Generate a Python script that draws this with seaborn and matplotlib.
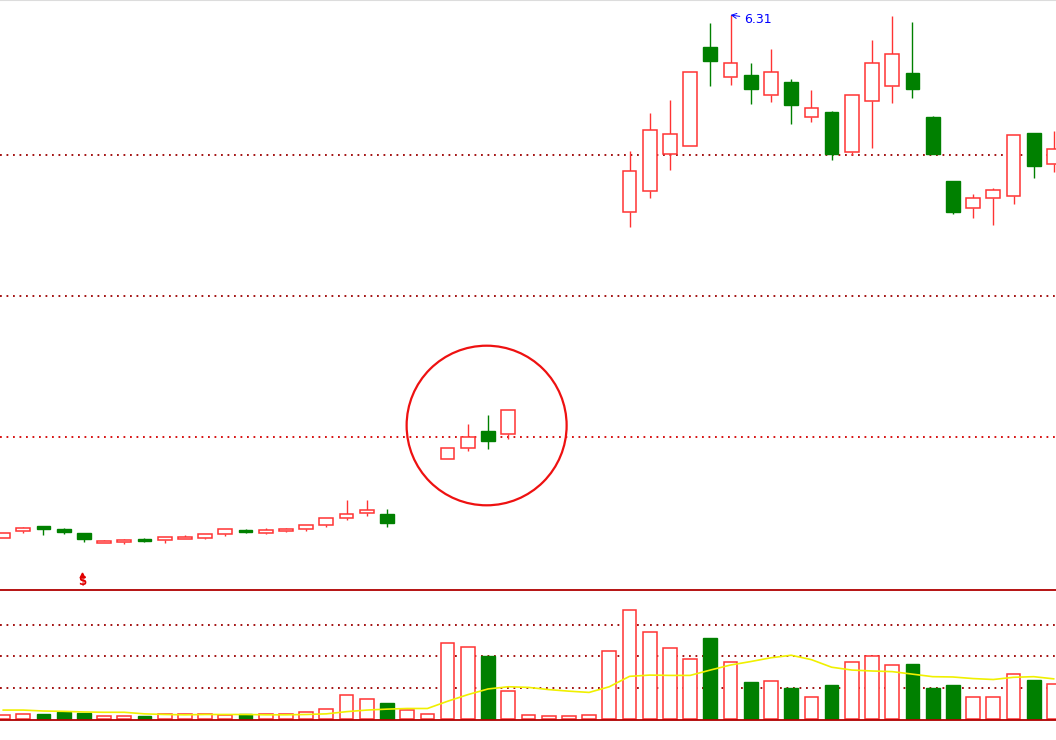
import numpy as np
import pandas as pd
import matplotlib
matplotlib.use("Agg")
import matplotlib.pyplot as plt
from matplotlib.patches import Ellipse
import seaborn as sns

# ======================
# DATA
# ======================
nan = np.nan

open_ = [1.08, 1.15, 1.20, 1.17, 1.13, 1.03, 1.04, 1.07, 1.06, 1.07,
         1.08, 1.12, 1.16, 1.13, 1.15, 1.17, 1.21, 1.28, 1.33, 1.32,
         nan, nan, 1.87, 1.98, 2.15, 2.12, nan, nan, nan, nan,
         nan, 4.34, 4.55, 4.92, 5.00, 5.99, 5.69, 5.71, 5.51, 5.64,
         5.29, 5.34, 4.94, 5.45, 5.60, 5.73, 5.29, 4.65, 4.38, 4.48,
         4.50, 5.13, 4.82]
high = [1.13, 1.19, 1.20, 1.18, 1.13, 1.06, 1.07, 1.08, 1.09, 1.11,
        1.12, 1.17, 1.17, 1.18, 1.18, 1.21, 1.28, 1.46, 1.46, 1.37,
        nan, nan, 1.98, 2.22, 2.31, 2.36, nan, nan, nan, nan,
        nan, 4.95, 5.33, 5.46, 5.74, 6.23, 6.31, 5.83, 5.97, 5.67,
        5.56, 5.35, 5.51, 6.06, 6.30, 6.24, 5.30, 4.65, 4.52, 4.58,
        5.11, 5.13, 5.15]
low = [1.08, 1.13, 1.11, 1.12, 1.04, 1.03, 1.02, 1.04, 1.03, 1.07,
       1.07, 1.10, 1.13, 1.12, 1.14, 1.15, 1.19, 1.26, 1.30, 1.19,
       nan, nan, 1.87, 1.95, 1.97, 2.07, nan, nan, nan, nan,
       nan, 4.19, 4.48, 4.76, 5.00, 5.60, 5.61, 5.42, 5.44, 5.22,
       5.24, 4.86, 4.91, 4.98, 5.43, 5.48, 4.92, 4.32, 4.28, 4.21,
       4.42, 4.68, 4.74]
close = [1.13, 1.18, 1.17, 1.14, 1.07, 1.05, 1.06, 1.05, 1.09, 1.09,
         1.12, 1.17, 1.14, 1.16, 1.17, 1.21, 1.28, 1.32, 1.36, 1.23,
         nan, nan, 1.98, 2.09, 2.05, 2.36, nan, nan, nan, nan,
         nan, 4.75, 5.16, 5.12, 5.74, 5.85, 5.83, 5.57, 5.74, 5.41,
         5.38, 4.92, 5.51, 5.83, 5.92, 5.57, 4.92, 4.34, 4.48, 4.56,
         5.11, 4.80, 4.97]

volume = [0.12, 0.15, 0.16, 0.24, 0.19, 0.09, 0.09, 0.10, 0.15, 0.15,
          0.15, 0.14, 0.15, 0.16, 0.18, 0.22, 0.31, 0.76, 0.63, 0.52,
          0.28, 0.18, 2.41, 2.28, 2.00, 0.89, 0.12, 0.09, 0.09, 0.12,
          2.15, 3.47, 2.76, 2.25, 1.92, 2.58, 1.80, 1.19, 1.22, 1.00,
          0.70, 1.10, 1.80, 1.99, 1.73, 1.74, 1.00, 1.10, 0.70, 0.70,
          1.44, 1.26, 1.12]
vol_ma = [0.29, 0.29, 0.26, 0.25, 0.23, 0.22, 0.22, 0.17, 0.15, 0.14,
          0.15, 0.15, 0.15, 0.14, 0.14, 0.15, 0.17, 0.24, 0.29, 0.32,
          0.34, 0.34, 0.57, 0.78, 0.96, 1.03, 1.01, 0.94, 0.89, 0.85,
          1.03, 1.36, 1.40, 1.39, 1.39, 1.56, 1.72, 1.83, 1.95, 2.03,
          1.89, 1.65, 1.56, 1.53, 1.51, 1.43, 1.35, 1.34, 1.29, 1.26,
          1.33, 1.35, 1.28]

price_grid = [4.91, 3.50, 2.09]
price_grid_colors = ["#9c0000", "#9c0000", "#d40000"]
vol_grid = [1, 2, 3]

max_label = "6.31"
signal_idx = 4          # the "$" marker
circle_center = (23.93, 2.205)

# ======================
# STYLE
# ======================
RED = "#ff3333"
GREEN = "#008000"
DARKRED = "#b00000"
WIDTH = 0.68
STEP = 20.21  # pixels per bar

sns.set_style("white")
plt.rcParams["font.family"] = ["DejaVu Sans"]

df = pd.DataFrame({"open": open_, "high": high, "low": low,
                   "close": close, "volume": volume, "ma": vol_ma})
df["idx"] = np.arange(len(df))
df["up"] = ~(df["close"] < df["open"])

fig = plt.figure(figsize=(10.56, 7.40), dpi=100)
H = 740.0
ax = fig.add_axes([0, 150 / H, 1, 590 / H])
axv = fig.add_axes([0, 20 / H, 1, 130 / H])

xlim = (-3 / STEP, -3 / STEP + 1056 / STEP)

# ======================
# PRICE PANEL
# ======================
for lvl, c in zip(price_grid, price_grid_colors):
    ax.axhline(lvl, color=c, lw=1.3, ls=(0, (1, 2.6)), zorder=1)

c = df.dropna(subset=["open"])
up = c[c["up"]]
dn = c[~c["up"]]

# wicks (hollow candles: wick does not cross the body)
ax.vlines(up["idx"], up["close"], up["high"], color=RED, lw=1, zorder=2)
ax.vlines(up["idx"], up["low"], up["open"], color=RED, lw=1, zorder=2)
ax.vlines(dn["idx"], dn["low"], dn["high"], color=GREEN, lw=1, zorder=2)

ax.bar(up["idx"], (up["close"] - up["open"]).clip(lower=0.012), bottom=up["open"],
       width=WIDTH, facecolor="white", edgecolor=RED, lw=1.1, zorder=3)
ax.bar(dn["idx"], dn["close"] - dn["open"], bottom=dn["open"],
       width=WIDTH, facecolor=GREEN, edgecolor=GREEN, lw=1.0, zorder=3)

# max label
imax = int(df["high"].idxmax())
ax.annotate(max_label, xy=(imax, df["high"].max()), xytext=(10, -3),
            textcoords="offset points", ha="left", va="center",
            fontsize=9, color="#0000ff",
            arrowprops=dict(arrowstyle="->", color="#0000ff", lw=0.7,
                            shrinkA=1, shrinkB=0))

# circle highlight
ax.add_patch(Ellipse(circle_center, width=160 / STEP, height=1.596,
                     fill=False, edgecolor="#ee1111", lw=1.6, zorder=4))

# "$" signal
ax.text(signal_idx - 0.1, 0.575, "$", color="#e00000", fontsize=8.5,
        fontweight="bold", ha="center", va="bottom", zorder=5)
ax.plot(signal_idx - 0.1, 0.71, marker="^", ms=3.5, color="#e00000", zorder=5)

ax.set_xlim(*xlim)
ax.set_ylim(0.56, 6.46)
ax.set_xticks([])
ax.set_yticks([])
for s in ["left", "right", "bottom"]:
    ax.spines[s].set_visible(False)
ax.spines["top"].set_color("#dcdcdc")
ax.spines["top"].set_linewidth(1.5)
ax.patch.set_alpha(0)

# ======================
# VOLUME PANEL
# ======================
for lvl in vol_grid:
    axv.axhline(lvl, color="#9c0000", lw=1.3, ls=(0, (1, 2.6)), zorder=1)

vu = df[df["up"]]
vd = df[~df["up"]]
axv.bar(vu["idx"], vu["volume"], width=WIDTH, facecolor="white",
        edgecolor=RED, lw=1.1, zorder=2)
axv.bar(vd["idx"], vd["volume"], width=WIDTH, facecolor=GREEN,
        edgecolor=GREEN, lw=1.0, zorder=2)

sns.lineplot(data=df, x="idx", y="ma", ax=axv, color="#f0f000", lw=1.2,
             zorder=3, legend=False)

axv.set_xlim(*xlim)
axv.set_ylim(-0.025, 4.10)
axv.set_xticks([])
axv.set_yticks([])
axv.set_xlabel("")
axv.set_ylabel("")
for s in ["left", "right"]:
    axv.spines[s].set_visible(False)
for s in ["top", "bottom"]:
    axv.spines[s].set_color(DARKRED)
    axv.spines[s].set_linewidth(1.3)

fig.savefig("out.png", dpi=100, facecolor="white")
